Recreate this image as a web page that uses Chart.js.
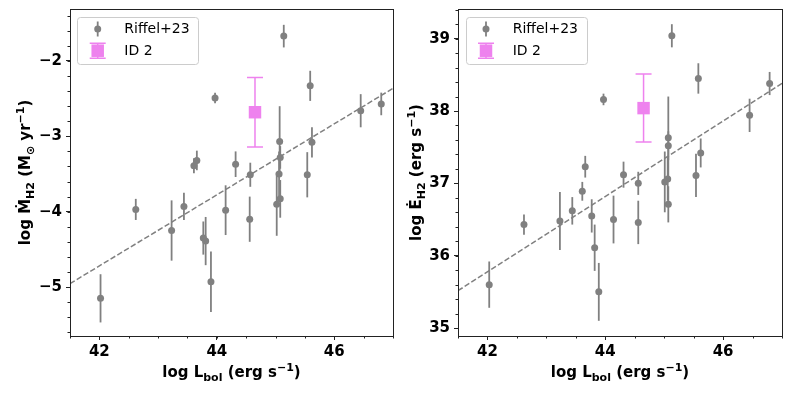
<!DOCTYPE html>
<html>
<head>
<meta charset="utf-8">
<script src="https://cdn.jsdelivr.net/npm/chart.js@4.4.0/dist/chart.umd.min.js"></script>
<style>
    html, body { margin: 0; padding: 0; background: #fff; }
    #wrap { position: relative; width: 792px; height: 396px; }
    .panel { position: absolute; top: 0; width: 396px; height: 396px; }
</style>
</head>
<body>
<div id="wrap">
    <div class="panel" style="left:0"><canvas id="mdotChart" width="396" height="396"></canvas></div>
    <div class="panel" style="left:396px"><canvas id="edotChart" width="396" height="396"></canvas></div>
</div>
<script>
// Shared x axis (log Lbol)
const xRange = [41.5, 47.0];
const xTicks = [42, 44, 46];

// Left panel: mass outflow rate, Riffel+23
const lbolM = [45.14, 45.59, 43.97, 46.45, 46.80, 45.07, 45.08, 45.62, 43.66, 43.61, 44.32, 44.57, 45.06,
               45.54, 42.62, 43.44, 43.23, 44.15, 44.56, 45.02, 45.08, 43.77, 43.81, 43.90, 42.02];
const mdot = [-1.67, -2.33, -2.49, -2.66, -2.57, -3.07, -3.28, -3.08, -3.32, -3.39, -3.37, -3.51, -3.50,
              -3.51, -3.97, -3.93, -4.25, -3.98, -4.10, -3.90, -3.83, -4.35, -4.39, -4.93, -5.15];
const mdotErr = [0.15, 0.20, 0.07, 0.22, 0.15, 0.47, 0.15, 0.20, 0.13, 0.10, 0.17, 0.16, 0.30,
                 0.30, 0.14, 0.18, 0.40, 0.33, 0.30, 0.42, 0.25, 0.22, 0.32, 0.40, 0.32];
const mdotRange = [-5.65, -1.31];
const mdotTicks = [-5, -4, -3, -2];

// Right panel: kinetic power, Riffel+23
const lbolE = [45.13, 45.58, 43.97, 46.79, 46.45, 45.07, 45.07, 45.62, 43.66, 44.31, 45.54, 44.56, 45.01,
               45.06, 45.07, 42.62, 43.61, 43.44, 43.23, 43.77, 44.14, 44.56, 43.82, 43.89, 42.03];
const edot = [39.04, 38.45, 38.16, 38.38, 37.94, 37.63, 37.52, 37.42, 37.23, 37.12, 37.11, 37.00, 37.02,
              37.06, 36.71, 36.43, 36.89, 36.62, 36.48, 36.55, 36.50, 36.46, 36.11, 35.50, 35.60];
const edotErr = [0.16, 0.21, 0.08, 0.16, 0.23, 0.57, 0.20, 0.20, 0.15, 0.18, 0.30, 0.16, 0.42,
                 0.30, 0.25, 0.14, 0.13, 0.19, 0.40, 0.23, 0.33, 0.30, 0.32, 0.40, 0.32];
const edotRange = [34.89, 39.41];
const edotTicks = [35, 36, 37, 38, 39];

// ID 2 (this work)
const id2Lbol = [44.65];
const id2Mdot = [-2.68];
const id2MdotErr = [0.46];
const id2Edot = [38.04];
const id2EdotErr = [0.47];

// Dashed fit lines
const fitX = [41.5, 47.0];
const fitMdot = [-4.955, -2.363];
const fitEdot = [35.516, 38.383];

const FONT = "'DejaVu Sans', sans-serif";
const GRAY = '#808080';
const VIOLET = '#ee82ee';

function pts(xs, ys) {
    return xs.map((x, i) => ({ x: x, y: ys[i] }));
}

function minorValues(lo, hi, step) {
    const out = [];
    for (let v = Math.ceil(lo / step) * step; v <= hi + 1e-9; v += step) out.push(+v.toFixed(4));
    return out;
}

function fmtMinus(v) {
    return String(v).replace('-', '\u2212');
}

function noPadding(s) {
    s.paddingLeft = 0;
    s.paddingRight = 0;
    s.paddingTop = 0;
    s.paddingBottom = 0;
}

// draw a label made of runs with sub/superscripts
function drawRuns(ctx, runs, cx, baseY) {
    const fontFor = r => 'bold ' + (r.k ? 11 : 15) + 'px ' + FONT;
    let total = 0;
    runs.forEach(r => { ctx.font = fontFor(r); r.w = ctx.measureText(r.t).width; total += r.w; });
    let x = cx - total / 2;
    ctx.textAlign = 'left';
    ctx.textBaseline = 'alphabetic';
    ctx.fillStyle = '#000';
    runs.forEach(r => {
        ctx.font = fontFor(r);
        const dy = r.k === 'sub' ? 3.5 : (r.k === 'sup' ? -6.5 : 0);
        ctx.fillText(r.t, x, baseY + dy);
        x += r.w;
    });
}

// error bars, minor ticks, frame, axis titles and legend
const decorPlugin = {
    id: 'decor',
    beforeDatasetsDraw(chart) {
        const ctx = chart.ctx;
        const xs = chart.scales.x, ys = chart.scales.y;
        chart.data.datasets.forEach(ds => {
            if (!ds.yErr) return;
            ctx.save();
            ctx.strokeStyle = ds.errColor;
            ctx.lineWidth = ds.errWidth;
            ds.data.forEach((p, i) => {
                const px = xs.getPixelForValue(p.x);
                const y1 = ys.getPixelForValue(p.y - ds.yErr[i]);
                const y2 = ys.getPixelForValue(p.y + ds.yErr[i]);
                ctx.beginPath();
                ctx.moveTo(px, y1);
                ctx.lineTo(px, y2);
                if (ds.capHalf) {
                    ctx.moveTo(px - ds.capHalf, y1);
                    ctx.lineTo(px + ds.capHalf, y1);
                    ctx.moveTo(px - ds.capHalf, y2);
                    ctx.lineTo(px + ds.capHalf, y2);
                }
                ctx.stroke();
            });
            ctx.restore();
        });
    },
    afterDraw(chart, args, opts) {
        const ctx = chart.ctx;
        const a = chart.chartArea;
        const xs = chart.scales.x, ys = chart.scales.y;
        ctx.save();
        ctx.strokeStyle = '#222';
        ctx.lineWidth = 1;
        // minor ticks
        ctx.beginPath();
        minorValues(xs.min, xs.max, 0.5).forEach(v => {
            const px = Math.round(xs.getPixelForValue(v)) + 0.5;
            ctx.moveTo(px, a.bottom);
            ctx.lineTo(px, a.bottom + 2.5);
        });
        minorValues(ys.min, ys.max, 0.2).forEach(v => {
            const py = Math.round(ys.getPixelForValue(v)) + 0.5;
            ctx.moveTo(a.left, py);
            ctx.lineTo(a.left - 2.5, py);
        });
        ctx.stroke();
        // frame
        ctx.strokeRect(Math.round(a.left) + 0.5, Math.round(a.top) + 0.5,
                       Math.round(a.right - a.left), Math.round(a.bottom - a.top));

        // axis titles
        drawRuns(ctx, opts.xTitle, (a.left + a.right) / 2, opts.xTitleY);
        ctx.save();
        ctx.translate(opts.yTitleX, (a.top + a.bottom) / 2);
        ctx.rotate(-Math.PI / 2);
        drawRuns(ctx, opts.yTitle, 0, 0);
        ctx.restore();

        // legend
        const L = opts.legend;
        ctx.beginPath();
        ctx.roundRect(L.x + 0.5, L.y + 0.5, L.w, L.h, 3);
        ctx.fillStyle = 'rgba(255,255,255,0.8)';
        ctx.fill();
        ctx.strokeStyle = '#cccccc';
        ctx.stroke();

        // Riffel+23 marker
        ctx.strokeStyle = GRAY;
        ctx.lineWidth = 1.8;
        ctx.beginPath();
        ctx.moveTo(L.mx, L.rows[0] - 7.5);
        ctx.lineTo(L.mx, L.rows[0] + 7.5);
        ctx.stroke();
        ctx.fillStyle = GRAY;
        ctx.beginPath();
        ctx.arc(L.mx, L.rows[0], 3.5, 0, Math.PI * 2);
        ctx.fill();

        // ID 2 marker
        ctx.strokeStyle = VIOLET;
        ctx.lineWidth = 1.5;
        ctx.beginPath();
        ctx.moveTo(L.mx, L.rows[1] - 7.5);
        ctx.lineTo(L.mx, L.rows[1] + 7.5);
        ctx.moveTo(L.mx - 8, L.rows[1] - 7.5);
        ctx.lineTo(L.mx + 8, L.rows[1] - 7.5);
        ctx.moveTo(L.mx - 8, L.rows[1] + 7.5);
        ctx.lineTo(L.mx + 8, L.rows[1] + 7.5);
        ctx.stroke();
        ctx.fillStyle = VIOLET;
        ctx.fillRect(L.mx - 6.25, L.rows[1] - 6.25, 12.5, 12.5);

        ctx.fillStyle = '#000';
        ctx.font = '14px ' + FONT;
        ctx.textAlign = 'left';
        ctx.textBaseline = 'middle';
        ctx.fillText('Riffel+23', L.tx, L.rows[0] + 0.5);
        ctx.fillText('ID 2', L.tx, L.rows[1] + 0.5);
        ctx.restore();
    }
};

function makeChart(canvasId, p) {
    const tickFont = { family: FONT, size: 15, weight: 'bold' };
    return new Chart(document.getElementById(canvasId), {
        type: 'scatter',
        data: {
            datasets: [
                {
                    label: 'ID 2',
                    data: pts(id2Lbol, p.id2Y),
                    yErr: p.id2Err,
                    errColor: VIOLET,
                    errWidth: 1.5,
                    capHalf: 8,
                    pointStyle: 'rect',
                    pointRadius: 8.8,
                    backgroundColor: VIOLET,
                    borderWidth: 0
                },
                {
                    label: 'Riffel+23',
                    data: pts(p.xs, p.ys),
                    yErr: p.err,
                    errColor: GRAY,
                    errWidth: 1.8,
                    pointRadius: 3.5,
                    backgroundColor: GRAY,
                    borderWidth: 0
                },
                {
                    type: 'line',
                    label: 'fit',
                    data: pts(fitX, p.fit),
                    borderColor: GRAY,
                    borderWidth: 1.5,
                    borderDash: [5.5, 2.4],
                    pointRadius: 0,
                    fill: false
                }
            ]
        },
        options: {
            responsive: false,
            animation: false,
            layout: { autoPadding: false, padding: { top: 9, right: p.padRight, left: 0, bottom: 0 } },
            plugins: {
                legend: { display: false },
                tooltip: { enabled: false },
                decor: {
                    xTitle: [{ t: 'log L' }, { t: 'bol', k: 'sub' }, { t: ' (erg s' }, { t: '\u22121', k: 'sup' }, { t: ')' }],
                    yTitle: p.yTitle,
                    xTitleY: 377,
                    yTitleX: p.yTitleX,
                    legend: p.legend
                }
            },
            scales: {
                x: {
                    type: 'linear',
                    min: xRange[0],
                    max: xRange[1],
                    afterBuildTicks: s => { s.ticks = xTicks.map(v => ({ value: v })); },
                    afterFit: s => { s.height = 60; noPadding(s); },
                    border: { display: false },
                    grid: { drawOnChartArea: false, drawTicks: true, tickLength: 4, color: '#222' },
                    ticks: { font: tickFont, color: '#000', padding: 3, maxRotation: 0 }
                },
                y: {
                    type: 'linear',
                    min: p.yRange[0],
                    max: p.yRange[1],
                    afterBuildTicks: s => { s.ticks = p.yTicks.map(v => ({ value: v })); },
                    afterFit: s => { s.width = p.yWidth; noPadding(s); },
                    border: { display: false },
                    grid: { drawOnChartArea: false, drawTicks: true, tickLength: 4, color: '#222' },
                    ticks: { font: tickFont, color: '#000', padding: 4, callback: v => fmtMinus(v) }
                }
            }
        },
        plugins: [decorPlugin]
    });
}

makeChart('mdotChart', {
    xs: lbolM, ys: mdot, err: mdotErr,
    id2Y: id2Mdot, id2Err: id2MdotErr,
    fit: fitMdot,
    yRange: mdotRange, yTicks: mdotTicks,
    yWidth: 70, padRight: 3,
    yTitleX: 30,
    yTitle: [{ t: 'log \u1E40' }, { t: 'H2', k: 'sub' }, { t: ' (M' }, { t: '\u2299', k: 'sub' }, { t: ' yr' }, { t: '\u22121', k: 'sup' }, { t: ')' }],
    legend: { x: 77, y: 17, w: 121, h: 47, mx: 97.7, tx: 124.3, rows: [29, 50.7] }
});

makeChart('edotChart', {
    xs: lbolE, ys: edot, err: edotErr,
    id2Y: id2Edot, id2Err: id2EdotErr,
    fit: fitEdot,
    yRange: edotRange, yTicks: edotTicks,
    yWidth: 62, padRight: 10,
    yTitleX: 25,
    yTitle: [{ t: 'log \u0116' }, { t: 'H2', k: 'sub' }, { t: ' (erg s' }, { t: '\u22121', k: 'sup' }, { t: ')' }],
    legend: { x: 70, y: 17, w: 121, h: 47, mx: 90, tx: 116.7, rows: [29, 50.7] }
});
</script>
</body>
</html>
